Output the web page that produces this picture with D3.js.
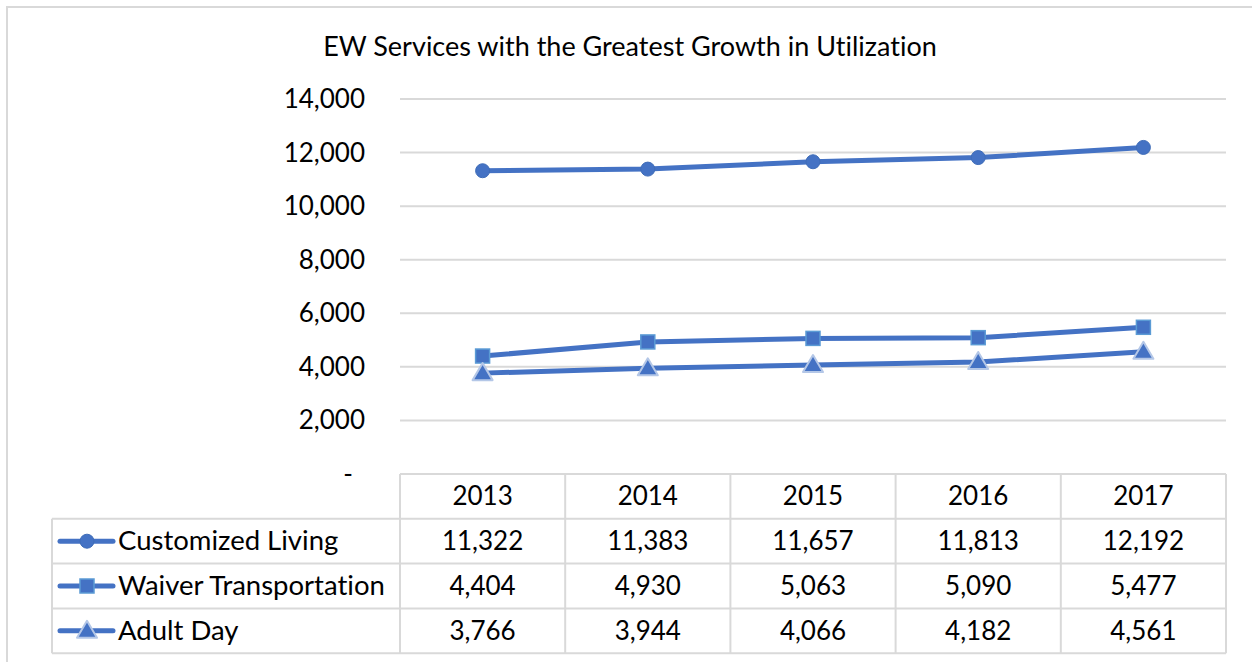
<!DOCTYPE html>
<html lang="en">
<head>
    <meta charset="UTF-8">
    <title>EW Services with the Greatest Growth in Utilization</title>
    <style>
        body {
            margin: 0;
            padding: 0;
            background: #fff;
        }
        svg text {
            font-family: Lato, "Open Sans", sans-serif;
            font-variant-ligatures: none;
            fill: #000;
        }
    </style>
</head>
<body>
<svg id="chart" width="1252" height="662"></svg>

<script src="https://d3js.org/d3.v7.min.js"></script>
<script>
    // data
    var years = ["2013", "2014", "2015", "2016", "2017"];
    var seriesNames = ["Customized Living", "Waiver Transportation", "Adult Day"];
    var customizedLiving = [11322, 11383, 11657, 11813, 12192];
    var waiverTransportation = [4404, 4930, 5063, 5090, 5477];
    var adultDay = [3766, 3944, 4066, 4182, 4561];
    var yTicks = [0, 2000, 4000, 6000, 8000, 10000, 12000, 14000];
    var markers = ["circle", "square", "triangle"];

    var series = [customizedLiving, waiverTransportation, adultDay].map(function (vals, i) {
        return { name: seriesNames[i], values: vals, marker: markers[i] };
    });

    var blue = "#4472C4";
    var grid = "#d9d9d9";

    var plot = { left: 400, right: 1226, top: 99, bottom: 474 };
    var rowH = 44.8;

    var svg = d3.select("#chart");

    // outer chart frame
    svg.append("rect")
        .attr("x", 7).attr("y", 7)
        .attr("width", 1270).attr("height", 680)
        .attr("fill", "none")
        .attr("stroke", grid)
        .attr("stroke-width", 2);

    svg.append("text")
        .attr("x", 630).attr("y", 56)
        .attr("text-anchor", "middle")
        .attr("font-size", 27)
        .text("EW Services with the Greatest Growth in Utilization");

    var x = d3.scaleBand()
        .domain(years)
        .range([plot.left, plot.right])
        .padding(0);

    var y = d3.scaleLinear()
        .domain([0, 14000])
        .range([plot.bottom, plot.top]);

    // gridlines
    svg.append("g")
        .selectAll("line")
        .data(yTicks.filter(d => d > 0))
        .enter().append("line")
        .attr("x1", plot.left).attr("x2", plot.right)
        .attr("y1", d => y(d)).attr("y2", d => y(d))
        .attr("stroke", grid)
        .attr("stroke-width", 2);

    // y axis labels (accounting style, zero shown as dash)
    svg.append("g")
        .selectAll("text")
        .data(yTicks)
        .enter().append("text")
        .attr("x", d => d === 0 ? 353 : 365)
        .attr("y", d => y(d) + 9)
        .attr("text-anchor", "end")
        .attr("font-size", 26)
        .text(d => d === 0 ? "-" : d3.format(",")(d));

    // lines
    var line = d3.line()
        .x((d, i) => x(years[i]) + x.bandwidth() / 2)
        .y(d => y(d));

    svg.append("g")
        .selectAll("path")
        .data(series)
        .enter().append("path")
        .attr("d", d => line(d.values))
        .attr("fill", "none")
        .attr("stroke", blue)
        .attr("stroke-width", 5)
        .attr("stroke-linecap", "round");

    function drawMarker(g, type, cx, cy) {
        if (type === "circle") {
            g.append("circle")
                .attr("cx", cx).attr("cy", cy).attr("r", 7)
                .attr("fill", blue)
                .attr("stroke", "#3f6db8")
                .attr("stroke-width", 1);
        } else if (type === "square") {
            g.append("rect")
                .attr("x", cx - 7).attr("y", cy - 7)
                .attr("width", 14).attr("height", 14)
                .attr("fill", blue)
                .attr("stroke", "#5b9bd5")
                .attr("stroke-width", 1.5);
        } else {
            g.append("path")
                .attr("d", "M" + cx + "," + (cy - 10) + "L" + (cx + 10) + "," + (cy + 7) + "L" + (cx - 10) + "," + (cy + 7) + "Z")
                .attr("fill", blue)
                .attr("stroke", "#b4c7e7")
                .attr("stroke-width", 2)
                .attr("stroke-linejoin", "round");
        }
    }

    var markG = svg.append("g");
    series.forEach(function (s) {
        s.values.forEach(function (v, i) {
            drawMarker(markG, s.marker, x(years[i]) + x.bandwidth() / 2, y(v));
        });
    });

    // data table
    var tableLeft = 52;
    var tbl = svg.append("g");
    var tTop = plot.bottom;
    var tBottom = tTop + rowH * 4;

    // horizontal lines
    tbl.append("line")
        .attr("x1", plot.left).attr("x2", plot.right)
        .attr("y1", tTop).attr("y2", tTop)
        .attr("stroke", grid).attr("stroke-width", 2);
    [1, 2, 3, 4].forEach(function (r) {
        tbl.append("line")
            .attr("x1", tableLeft).attr("x2", plot.right)
            .attr("y1", tTop + rowH * r).attr("y2", tTop + rowH * r)
            .attr("stroke", grid).attr("stroke-width", 2);
    });
    // vertical lines
    tbl.append("line")
        .attr("x1", tableLeft).attr("x2", tableLeft)
        .attr("y1", tTop + rowH).attr("y2", tBottom)
        .attr("stroke", grid).attr("stroke-width", 2);
    years.concat(["end"]).forEach(function (yr, i) {
        var xx = i < years.length ? x(yr) : plot.right;
        tbl.append("line")
            .attr("x1", xx).attr("x2", xx)
            .attr("y1", tTop).attr("y2", tBottom)
            .attr("stroke", grid).attr("stroke-width", 2);
    });

    // header years
    tbl.selectAll("text.year")
        .data(years)
        .enter().append("text")
        .attr("class", "year")
        .attr("x", d => x(d) + x.bandwidth() / 2)
        .attr("y", tTop + rowH / 2 + 9)
        .attr("text-anchor", "middle")
        .attr("font-size", 26)
        .text(d => d);

    series.forEach(function (s, r) {
        var cy = tTop + rowH * (r + 1) + rowH / 2;
        tbl.append("line")
            .attr("x1", 60).attr("x2", 113)
            .attr("y1", cy).attr("y2", cy)
            .attr("stroke", blue).attr("stroke-width", 5)
            .attr("stroke-linecap", "round");
        drawMarker(tbl, s.marker, 87, cy);
        tbl.append("text")
            .attr("x", 118).attr("y", cy + 9)
            .attr("font-size", 27.5)
            .text(s.name);
        s.values.forEach(function (v, i) {
            tbl.append("text")
                .attr("x", x(years[i]) + x.bandwidth() / 2)
                .attr("y", cy + 9)
                .attr("text-anchor", "middle")
                .attr("font-size", 26)
                .text(d3.format(",")(v));
        });
    });
</script>
</body>
</html>
